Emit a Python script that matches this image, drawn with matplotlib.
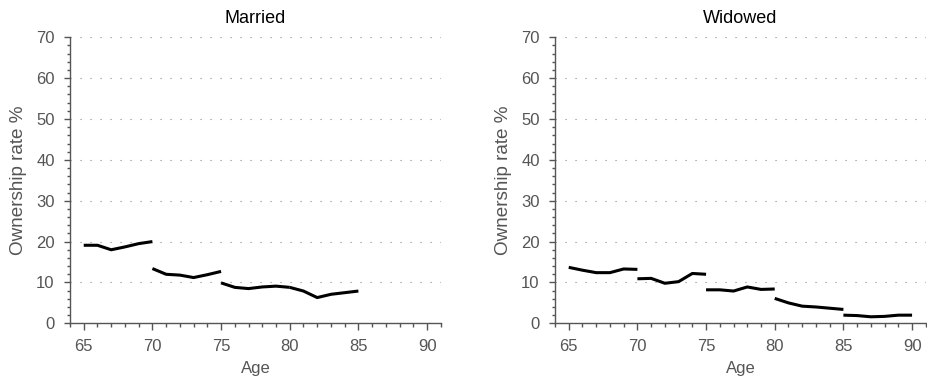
import numpy as np
import matplotlib
matplotlib.use("Agg")
import matplotlib.pyplot as plt
from matplotlib.ticker import MultipleLocator

plt.rcParams['font.family'] = ['Liberation Sans', 'DejaVu Sans']

# Start age of each 5-year group and ownership rates (%) within it
group_starts = [65, 70, 75, 80, 85]
married = [
    [19.1, 19.1, 18.0, 18.7, 19.5, 20.0],
    [13.4, 12.0, 11.8, 11.2, 11.9, 12.7],
    [9.9, 8.8, 8.5, 8.9, 9.1, 8.8],
    [8.8, 7.9, 6.3, 7.1, 7.5, 7.9],
]
widowed = [
    [13.7, 13.0, 12.4, 12.4, 13.3, 13.2],
    [10.9, 11.0, 9.8, 10.2, 12.2, 12.0],
    [8.2, 8.2, 7.9, 8.9, 8.3, 8.4],
    [6.1, 5.0, 4.2, 4.0, 3.7, 3.4],
    [2.0, 1.9, 1.6, 1.7, 2.0, 2.0],
]
panels = [("Married", married), ("Widowed", widowed)]
x_ticks = [65, 70, 75, 80, 85, 90]
y_ticks = [0, 10, 20, 30, 40, 50, 60, 70]

gray = '#555555'
fig = plt.figure(figsize=(9.27, 3.84), dpi=100)
lefts = [70 / 927, 555 / 927]

for left, (title, segs) in zip(lefts, panels):
    ax = fig.add_axes([left, 0.158, 0.400, 0.745])
    for start, vals in zip(group_starts, segs):
        ages = np.arange(start, start + len(vals))
        ax.plot(ages, vals, color='black', lw=2.2, solid_capstyle='butt')

    ax.set_xlim(64, 91)
    ax.set_ylim(0, 70)
    ax.set_xticks(x_ticks)
    ax.set_yticks(y_ticks)
    ax.xaxis.set_minor_locator(MultipleLocator(1))
    ax.yaxis.set_minor_locator(MultipleLocator(2))
    ax.yaxis.grid(True, color='#888888', lw=0.8, linestyle=(0, (1, 8)))
    ax.set_axisbelow(True)

    for side in ['top', 'right']:
        ax.spines[side].set_visible(False)
    for side in ['left', 'bottom']:
        ax.spines[side].set_color(gray)
        ax.spines[side].set_linewidth(1.0)

    ax.tick_params(axis='x', which='major', length=5, width=1, color=gray,
                   labelcolor=gray, labelsize=12, pad=6)
    ax.tick_params(axis='x', which='minor', length=3, width=1, color=gray)
    ax.tick_params(axis='y', which='major', length=4, width=1, color=gray,
                   labelcolor=gray, labelsize=12, pad=7)
    ax.tick_params(axis='y', which='minor', length=2.5, width=1, color=gray)

    ax.set_title(title, fontsize=13, color='black', pad=10)
    ax.set_xlabel("Age", fontsize=12, color=gray, labelpad=5)
    ax.set_ylabel("Ownership rate %", fontsize=13.6, color=gray)
    ax.yaxis.set_label_coords(-0.116, 0.5)

fig.savefig("out.png", dpi=100)
